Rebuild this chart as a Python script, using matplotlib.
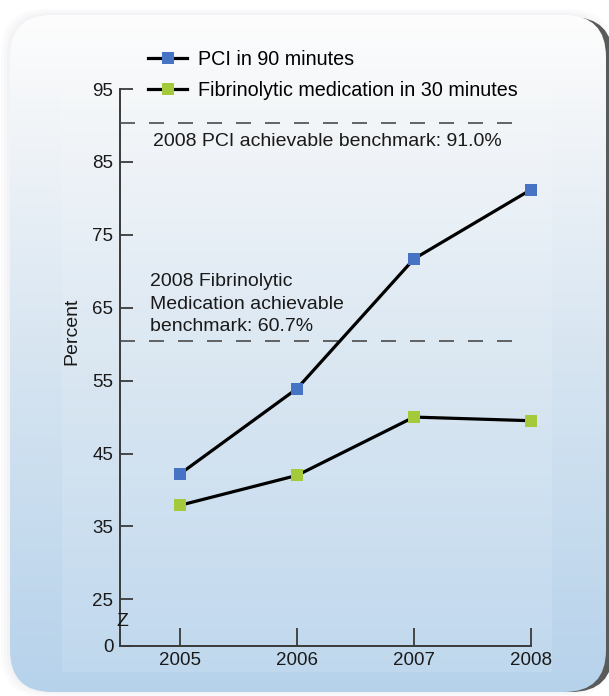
import matplotlib
matplotlib.use("Agg")
import matplotlib.pyplot as plt
import numpy as np
from matplotlib.patches import FancyBboxPatch, Rectangle
from matplotlib.colors import LinearSegmentedColormap

plt.rcParams['font.family'] = ['Liberation Sans', 'DejaVu Sans']

# data
years = [2005, 2006, 2007, 2008]
pci_90 = [42.2, 53.9, 71.7, 81.2]
fib_30 = [37.9, 42.0, 50.0, 49.5]
# benchmark lines as drawn (labels say 91.0 / 60.7)
pci_benchmark = 90.4
fib_benchmark = 60.4
ytick_vals = [25, 35, 45, 55, 65, 75, 85, 95]
series_labels = ['PCI in 90 minutes', 'Fibrinolytic medication in 30 minutes']

W, H = 609, 696
fig = plt.figure(figsize=(W / 100, H / 100), dpi=100)
fig.patch.set_facecolor('white')

# background card (pixel coords, y down)
bg = fig.add_axes([0, 0, 1, 1])
bg.set_xlim(0, W)
bg.set_ylim(H, 0)
bg.axis('off')

for i, a in enumerate([0.03, 0.03, 0.04]):
    glow = FancyBboxPatch((10 - 3 * (3 - i), 15 - 2 * (3 - i)), 594 + 6 * (3 - i), 676 + 4 * (3 - i),
                          boxstyle="round,pad=0,rounding_size=44", fc='#8a97a3', ec='none', alpha=a)
    bg.add_patch(glow)
shadow = FancyBboxPatch((200, 17), 413, 675, boxstyle="round,pad=0,rounding_size=42",
                        fc='#5a5a5a', ec='none')
bg.add_patch(shadow)
card = FancyBboxPatch((10, 15), 596, 677, boxstyle="round,pad=0,rounding_size=42",
                      fc='none', ec='none')
bg.add_patch(card)
cmap = LinearSegmentedColormap.from_list('card', [(0, '#fdfdfd'), (0.15, '#f2f5f8'),
                                                  (0.5, '#d7e5f1'), (1, '#b6d2eb')])
grad = np.linspace(0, 1, 256).reshape(-1, 1)
im = bg.imshow(grad, cmap=cmap, extent=(10, 606, 692, 15), aspect='auto', zorder=1)
im.set_clip_path(card)
bg.add_patch(Rectangle((62, 46), 490, 626, fc='white', ec='none', alpha=0.12, zorder=2))

# main chart
x_left, x_right = 120.3, 531.0
y_top, y_bot = 89.0, 646.0
ax = fig.add_axes([x_left / W, 1 - y_bot / H, (x_right - x_left) / W, (y_bot - y_top) / H])
ax.set_facecolor('none')
ax.set_xlim(2004.49, 2008.0)
ax.set_ylim(18.6, 95.0)

line_pci, = ax.plot(years, pci_90, color='black', lw=2.3, marker='s', markersize=9,
                    markerfacecolor='#4773c4', markeredgewidth=0, clip_on=False, zorder=4)
line_fib, = ax.plot(years, fib_30, color='black', lw=2.3, marker='s', markersize=9,
                    markerfacecolor='#a4c93b', markeredgewidth=0, clip_on=False, zorder=4)

for b in [pci_benchmark, fib_benchmark]:
    ax.plot([2004.49, 2007.88], [b, b], color='#4a4a4a', lw=1.2, dashes=(9, 8.4), zorder=3)

ax.text(2004.77, 87.8, '2008 PCI achievable benchmark: 91.0%', fontsize=14,
        va='center', ha='left', color='#1a1a1a')
ax.text(2004.74, 65.5, '2008 Fibrinolytic\nMedication achievable\nbenchmark: 60.7%',
        fontsize=14, va='center', ha='left', color='#1a1a1a', linespacing=1.4)
ax.text(2004.51, 22.0, 'Z', fontsize=14, va='center', ha='center', color='#1a1a1a')

ax.spines['top'].set_visible(False)
ax.spines['right'].set_visible(False)
for s in ['left', 'bottom']:
    ax.spines[s].set_color('#3a3a3a')
    ax.spines[s].set_linewidth(1.4)

ax.set_xticks(years)
ax.set_xticklabels([str(y) for y in years])
ax.set_yticks([18.6] + ytick_vals)
ax.set_yticklabels(['0'] + [str(v) for v in ytick_vals])
ax.tick_params(axis='x', direction='in', length=13, width=1.3, color='#3a3a3a',
               labelsize=13.5, pad=4, labelcolor='#1a1a1a')
ax.tick_params(axis='y', direction='in', length=9, width=1.3, color='#3a3a3a',
               labelsize=13.5, pad=5, labelcolor='#1a1a1a')

fig.text(72 / W, 1 - 331 / H, 'Percent', rotation=90, fontsize=14, ha='center', va='center',
         color='#1a1a1a')

ax.legend([line_pci, line_fib], series_labels, loc='upper left',
          bbox_to_anchor=(148 / W, 1 - 50 / H), bbox_transform=fig.transFigure,
          frameon=False, fontsize=14.2, handlelength=2.0, handletextpad=0.55,
          labelspacing=0.62, borderpad=0, borderaxespad=0, numpoints=1, markerscale=0.9)

fig.savefig('out.png', dpi=100)
